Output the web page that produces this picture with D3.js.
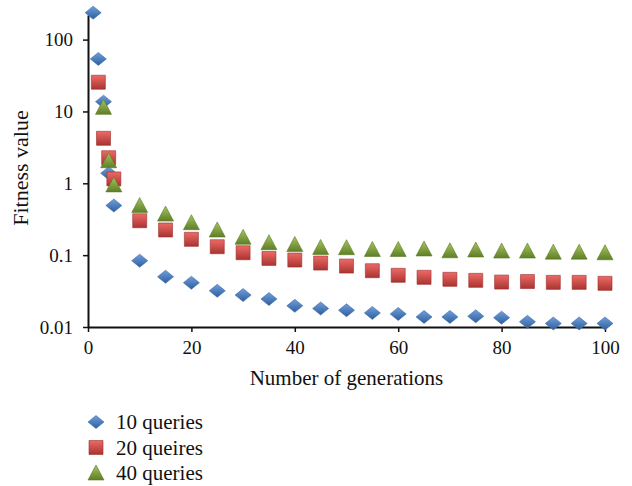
<!DOCTYPE html>
<html>
<head>
<meta charset="utf-8">
<script src="https://cdn.jsdelivr.net/npm/d3@7"></script>
<style>
  body { margin: 0; background: #fff; }
  svg text { font-family: "Liberation Serif", "DejaVu Serif", serif; fill: #111; }
</style>
</head>
<body>
<div id="chart"></div>
<script>
// generations on the x axis
const generations = [1, 2, 3, 4, 5, 10, 15, 20, 25, 30, 35, 40, 45, 50, 55, 60, 65, 70, 75, 80, 85, 90, 95, 100];

// fitness values
const q10 = [237, 53.8, 13.7, 1.38, 0.49, 0.0836, 0.050, 0.0413, 0.0319, 0.0278, 0.0245, 0.0197, 0.0181, 0.0171,
  0.0157, 0.0152, 0.0138, 0.0138, 0.0141, 0.0135, 0.0118, 0.0112, 0.0112, 0.0112];
const q20 = [null, 25.5, 4.23, 2.27, 1.15, 0.301, 0.224, 0.166, 0.131, 0.108, 0.090, 0.0855, 0.0776, 0.0705,
  0.0607, 0.0524, 0.0491, 0.0461, 0.0446, 0.0422, 0.0429, 0.0418, 0.0418, 0.0405];
const q40 = [null, null, 11.4, 2.06, 0.95, 0.49, 0.373, 0.283, 0.224, 0.177, 0.149, 0.141, 0.128, 0.127,
  0.120, 0.120, 0.122, 0.115, 0.118, 0.114, 0.114, 0.110, 0.110, 0.108];

const xTicks = [0, 20, 40, 60, 80, 100];
const yTicks = [0.01, 0.1, 1, 10, 100];
const seriesNames = ["10 queries", "20 queires", "40 queries"];

const width = 632, height = 486;
const svg = d3.select("#chart").append("svg")
  .attr("width", width)
  .attr("height", height);

const defs = svg.append("defs");
function grad(id, top, bottom) {
  const g = defs.append("linearGradient").attr("id", id)
    .attr("x1", 0).attr("y1", 0).attr("x2", 0).attr("y2", 1);
  g.append("stop").attr("offset", "0%").attr("stop-color", top);
  g.append("stop").attr("offset", "100%").attr("stop-color", bottom);
}
grad("gBlue", "#6f9fdc", "#2e5f9c");
grad("gRed", "#ee6a66", "#a93431");
grad("gGreen", "#a6c45f", "#5f7f27");

const x = d3.scaleLinear().domain([0, 100]).range([88, 605]);
const y = d3.scaleLog().domain([0.01, 220]).range([327, 15]);

// axes
const xAxis = d3.axisBottom(x).tickValues(xTicks).tickSize(5).tickPadding(9).tickSizeOuter(0);
const yAxis = d3.axisLeft(y).tickValues(yTicks).tickSize(5).tickPadding(10).tickSizeOuter(0)
  .tickFormat(d => d);

const gx = svg.append("g").attr("transform", `translate(0,${y(0.01)})`).call(xAxis);
const gy = svg.append("g").attr("transform", `translate(${x(0)},0)`).call(yAxis);
[gx, gy].forEach(g => {
  g.select(".domain").attr("stroke", "#111").attr("stroke-width", 2);
  g.selectAll(".tick line").attr("stroke", "#111").attr("stroke-width", 1.5);
  g.selectAll(".tick text").style("font-size", "19px").attr("fill", "#111");
});

svg.append("text")
  .attr("x", (x(0) + x(100)) / 2)
  .attr("y", 385)
  .attr("text-anchor", "middle")
  .style("font-size", "21px")
  .text("Number of generations");

svg.append("text")
  .attr("transform", `translate(28,168) rotate(-90)`)
  .attr("text-anchor", "middle")
  .style("font-size", "22px")
  .text("Fitness value");

// markers
const diamond = "M0,-6.5L8,0L0,6.5L-8,0Z";
const square = "M-7,-7H7V7H-7Z";
const triangle = "M0,-8L8,7H-8Z";

function drawSeries(vals, path, fill, stroke) {
  const pts = generations.map((g, i) => ({ g, v: vals[i] })).filter(d => d.v != null);
  svg.append("g").selectAll("path")
    .data(pts)
    .enter().append("path")
    .attr("d", path)
    .attr("transform", d => `translate(${x(d.g)},${y(d.v)})`)
    .attr("fill", fill)
    .attr("stroke", stroke)
    .attr("stroke-width", 0.6);
}
drawSeries(q10, diamond, "url(#gBlue)", "#3a6aa8");
drawSeries(q20, square, "url(#gRed)", "#9c2e2b");
drawSeries(q40, triangle, "url(#gGreen)", "#5a7a25");

// legend
const legend = svg.append("g");
const legendItems = [
  { name: seriesNames[0], path: diamond, fill: "url(#gBlue)", stroke: "#3a6aa8" },
  { name: seriesNames[1], path: square, fill: "url(#gRed)", stroke: "#9c2e2b" },
  { name: seriesNames[2], path: triangle, fill: "url(#gGreen)", stroke: "#5a7a25" }
];
legendItems.forEach((d, i) => {
  const yy = 422 + i * 25.5;
  legend.append("path").attr("d", d.path)
    .attr("transform", `translate(96,${yy})`)
    .attr("fill", d.fill).attr("stroke", d.stroke).attr("stroke-width", 0.6);
  legend.append("text")
    .attr("x", 116).attr("y", yy + 7)
    .style("font-size", "21px")
    .text(d.name);
});
</script>
</body>
</html>
